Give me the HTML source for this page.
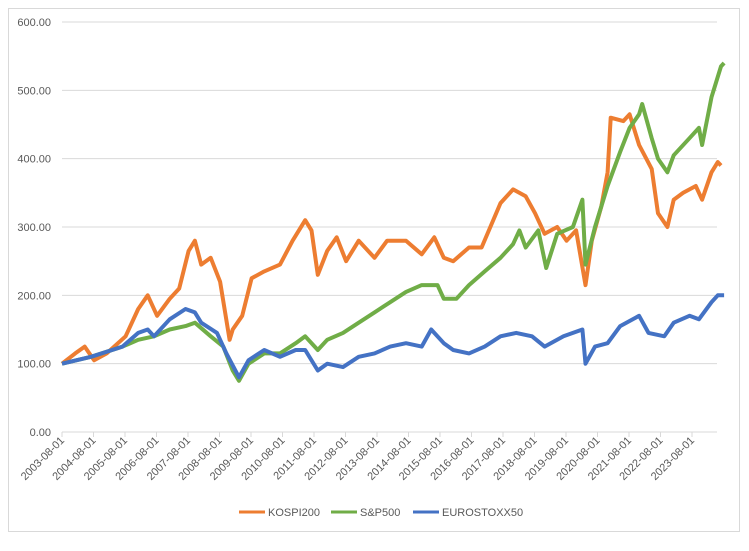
<!DOCTYPE html>
<html><head><meta charset="utf-8"><style>
body{margin:0;background:#fff;font-family:"Liberation Sans",Arial,sans-serif}
svg text{font-family:"Liberation Sans",Arial,sans-serif;fill:#595959}
</style></head><body>
<svg id="c" width="749" height="546" xmlns="http://www.w3.org/2000/svg">
<rect x="8.5" y="8.5" width="731" height="523" fill="#fff" stroke="#d9d9d9"/>
<g id="grid"></g><g id="xa"></g><g id="series"></g><g id="legend"></g>
</svg>
<script>
const yTicks=[0,100,200,300,400,500,600];
const xTickYears=[2003,2004,2005,2006,2007,2008,2009,2010,2011,2012,2013,2014,2015,2016,2017,2018,2019,2020,2021,2022,2023];
const kospiT=[2003.58,2004.0,2004.3,2004.6,2005.0,2005.6,2006.0,2006.3,2006.6,2007.0,2007.3,2007.6,2007.8,2008.0,2008.3,2008.6,2008.9,2009.0,2009.3,2009.6,2010.0,2010.5,2010.9,2011.3,2011.5,2011.7,2012.0,2012.3,2012.6,2013.0,2013.5,2013.9,2014.5,2015.0,2015.4,2015.7,2016.0,2016.5,2016.9,2017.5,2017.9,2018.3,2018.6,2018.9,2019.3,2019.6,2019.9,2020.2,2020.4,2020.7,2020.9,2021.0,2021.4,2021.6,2021.9,2022.3,2022.5,2022.8,2023.0,2023.3,2023.7,2023.9,2024.2,2024.4,2024.5];
const kospiV=[100,115,125,105,115,140,180,200,170,195,210,265,280,245,255,220,135,150,170,225,235,245,280,310,295,230,265,285,250,280,255,280,280,260,285,255,250,270,270,335,355,345,320,290,300,280,295,215,280,330,380,460,455,465,420,385,320,300,340,350,360,340,380,395,390];
const spT=[2003.58,2004.5,2005.5,2006.0,2006.5,2007.0,2007.5,2007.8,2008.3,2008.7,2009.0,2009.2,2009.5,2010.0,2010.5,2011.0,2011.3,2011.7,2012.0,2012.5,2013.0,2013.5,2014.0,2014.5,2015.0,2015.5,2015.7,2016.1,2016.5,2017.0,2017.5,2017.9,2018.1,2018.3,2018.7,2018.95,2019.3,2019.8,2020.1,2020.2,2020.5,2020.9,2021.3,2021.6,2021.9,2022.0,2022.3,2022.5,2022.8,2023.0,2023.5,2023.8,2023.9,2024.2,2024.5,2024.6];
const spV=[100,110,125,135,140,150,155,160,140,125,90,75,100,115,115,130,140,120,135,145,160,175,190,205,215,215,195,195,215,235,255,275,295,270,295,240,290,300,340,245,300,360,410,445,465,480,430,400,380,405,430,445,420,490,535,540];
const euT=[2003.58,2004.5,2005.5,2006.0,2006.3,2006.5,2007.0,2007.5,2007.8,2008.0,2008.5,2008.8,2009.2,2009.5,2010.0,2010.5,2011.0,2011.3,2011.7,2012.0,2012.5,2013.0,2013.5,2014.0,2014.5,2015.0,2015.3,2015.7,2016.0,2016.5,2017.0,2017.5,2018.0,2018.5,2018.9,2019.5,2020.1,2020.2,2020.5,2020.9,2021.3,2021.7,2021.9,2022.2,2022.7,2023.0,2023.5,2023.8,2024.2,2024.4,2024.6];
const euV=[100,110,125,145,150,140,165,180,175,160,145,115,80,105,120,110,120,120,90,100,95,110,115,125,130,125,150,130,120,115,125,140,145,140,125,140,150,100,125,130,155,165,170,145,140,160,170,165,190,200,200];
const seriesNames=["KOSPI200","S&P500","EUROSTOXX50"];
const colors=["#ed7d31","#70ad47","#4472c4"];
const NS="http://www.w3.org/2000/svg";
const X0=62,X1=717,Y0=432,PXU=410/600;
const xs=t=>X0+(t-2003.58)*31.5;
const ys=v=>Y0-v*PXU;
function mk(tag,attrs,parent){const e=document.createElementNS(NS,tag);for(const k in attrs)e.setAttribute(k,attrs[k]);parent.appendChild(e);return e;}
const grid=document.getElementById('grid');
yTicks.forEach(v=>{
 const l=mk('line',{x1:X0,x2:X1,y1:ys(v),y2:ys(v),stroke:'#d9d9d9','stroke-width':1},grid);
 
 
 const t=mk('text',{x:51,y:ys(v)+4,'text-anchor':'end','font-size':11},grid);
 t.textContent=v.toFixed(2);
 
 
});
const xa=document.getElementById('xa');
xTickYears.forEach(y=>{
 const x=xs(y+0.58);
 const tk=mk('line',{x1:x,x2:x,y1:Y0,y2:Y0+5,stroke:'#d9d9d9'},xa);
 
 
 const t=mk('text',{x:x+3,y:Y0+9,'text-anchor':'end','font-size':11,transform:`rotate(-45 ${x+3} ${Y0+9})`},xa);
 t.textContent=y+'-08-01';
 
 
});
const sg=document.getElementById('series');
const data=[[kospiT,kospiV],[spT,spV],[euT,euV]];
data.forEach((d,i)=>{
 const pts=d[0].map((t,j)=>xs(t).toFixed(1)+','+ys(d[1][j]).toFixed(1)).join(' ');
 const p=mk('polyline',{points:pts,fill:'none',stroke:colors[i],'stroke-width':4,'stroke-linejoin':'round'},sg);
 
 
});
const lg=document.getElementById('legend');
const lx=[239,331,413];
seriesNames.forEach((n,i)=>{
 const l=mk('line',{x1:lx[i],x2:lx[i]+26,y1:512,y2:512,stroke:colors[i],'stroke-width':3},lg);
 
 
 const t=mk('text',{x:lx[i]+29,y:516,'font-size':11},lg);
 t.textContent=n;
 
 
});
</script>
</body></html>
